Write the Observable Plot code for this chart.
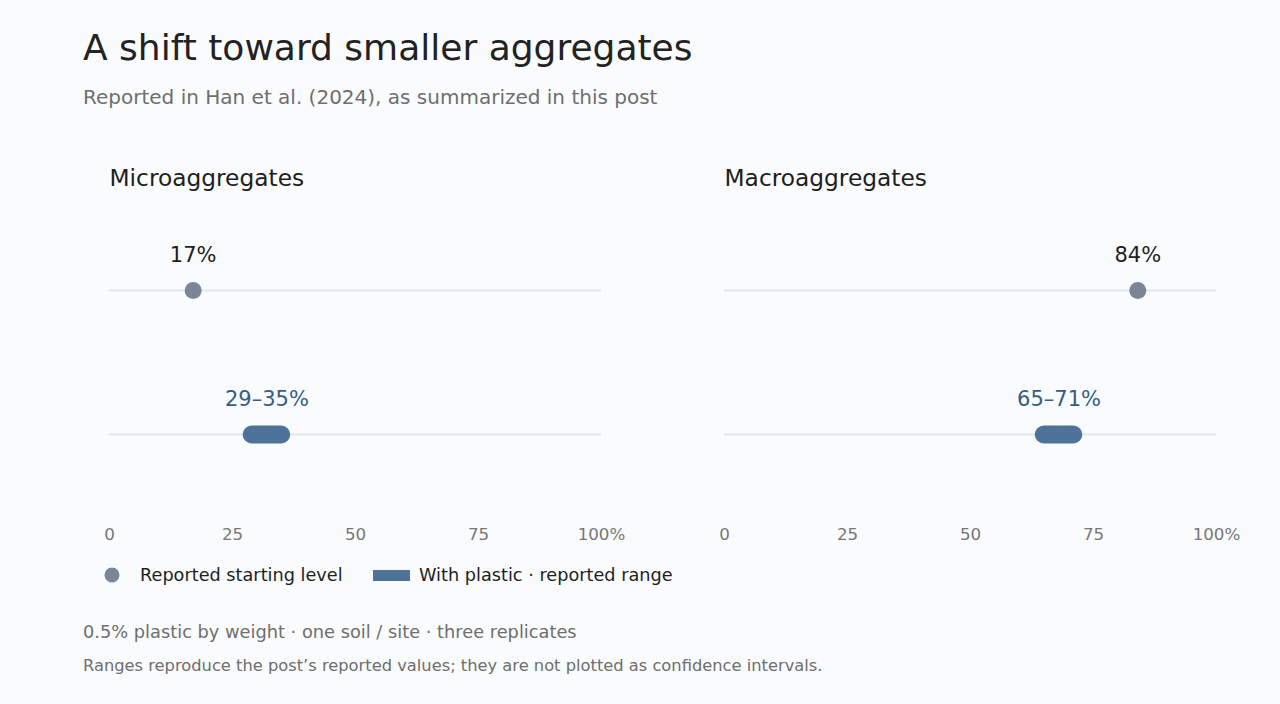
<!DOCTYPE html>
<html>
<head>
<meta charset="utf-8">
<script src="https://cdn.jsdelivr.net/npm/d3@7"></script>
<script src="https://cdn.jsdelivr.net/npm/@observablehq/plot@0.6"></script>
<style>
  html, body { margin: 0; padding: 0; background: #f9fbfd; }
  body { width: 1280px; height: 704px; position: relative; font-family: "DejaVu Sans", sans-serif; overflow: hidden; }
  #title { position: absolute; left: 83px; top: 26px; font-size: 36px; color: #222; white-space: nowrap; line-height: 1.2; }
  #subtitle { position: absolute; left: 83px; top: 85px; font-size: 20px; color: #6e6e6e; white-space: nowrap; line-height: 1.2; }
  #chart { position: absolute; left: 0; top: 140px; }
  #legend { position: absolute; left: 0; top: 562px; width: 1280px; height: 26px; }
  #note1 { position: absolute; left: 83px; top: 621px; font-size: 17.8px; color: #6e6e6e; white-space: nowrap; line-height: 1.2; }
  #note2 { position: absolute; left: 83px; top: 656px; font-size: 16.3px; color: #6e6e6e; white-space: nowrap; line-height: 1.2; }
</style>
</head>
<body>
<div id="title">A shift toward smaller aggregates</div>
<div id="subtitle">Reported in Han et al. (2024), as summarized in this post</div>
<div id="chart"></div>
<svg id="legend" width="1280" height="26"></svg>
<div id="note1">0.5% plastic by weight · one soil / site · three replicates</div>
<div id="note2">Ranges reproduce the post’s reported values; they are not plotted as confidence intervals.</div>
<script>
const groups = ["Microaggregates", "Macroaggregates"];
const startValues = [17, 84];
const rangeLow = [29, 65];
const rangeHigh = [35, 71];
const rows = ["start", "plastic"];
const xTicks = [0, 25, 50, 75, 100];
const legendLabels = ["Reported starting level", "With plastic · reported range"];

const dotColor = "#7d8594";
const barColor = "#4e7299";
const rangeTextColor = "#355d86";
const trackColor = "#e4e6ea";

const table = groups.map((g, i) => ({
  group: g, start: startValues[i], lo: rangeLow[i], hi: rangeHigh[i]
}));
const tracks = groups.flatMap(g => rows.map(r => ({group: g, row: r})));

const chart = Plot.plot({
  width: 1280,
  height: 410,
  marginLeft: 109,
  marginRight: 64,
  marginTop: 0,
  marginBottom: 30,
  style: {background: "transparent", fontFamily: "DejaVu Sans, sans-serif"},
  fx: {domain: groups, paddingInner: 0.2, paddingOuter: 0, axis: null},
  x: {domain: [0, 100], ticks: xTicks, label: null},
  y: {type: "point", domain: rows, range: [150, 294], padding: 0, axis: null},
  marks: [
    Plot.axisX({ticks: xTicks, tickSize: 0, tickPadding: 8, fontSize: 16.7, color: "#777",
      tickFormat: d => d === 100 ? "100%" : String(d), label: null}),
    Plot.text(groups, {fx: d => d, text: d => d, frameAnchor: "top-left", textAnchor: "start",
      lineAnchor: "middle", dy: 38, fontSize: 23.3, fill: "#1e1e1e"}),
    Plot.ruleY(tracks, {fx: "group", y: "row", x1: 0, x2: 100, stroke: trackColor, strokeWidth: 2}),
    Plot.ruleY(table, {fx: "group", y: () => "plastic", x1: "lo", x2: "hi", stroke: barColor,
      strokeWidth: 18, strokeLinecap: "round"}),
    Plot.dot(table, {fx: "group", x: "start", y: () => "start", r: 8.5, fill: dotColor}),
    Plot.text(table, {fx: "group", x: "start", y: () => "start", text: d => `${d.start}%`,
      dy: -35, fontSize: 21, fill: "#1e1e1e"}),
    Plot.text(table, {fx: "group", x: d => (d.lo + d.hi) / 2, y: () => "plastic",
      text: d => `${d.lo}–${d.hi}%`, dy: -35, fontSize: 21, fill: rangeTextColor})
  ]
});
document.getElementById("chart").appendChild(chart);

const lg = d3.select("#legend");
lg.append("circle").attr("cx", 112).attr("cy", 13).attr("r", 7.5).attr("fill", dotColor);
lg.append("text").attr("x", 140).attr("y", 13).attr("dy", "0.35em").attr("font-size", 17.7)
  .attr("fill", "#1e1e1e").attr("font-family", "DejaVu Sans, sans-serif").text(legendLabels[0]);
lg.append("rect").attr("x", 373).attr("y", 8).attr("width", 37).attr("height", 11).attr("fill", barColor);
lg.append("text").attr("x", 419).attr("y", 13).attr("dy", "0.35em").attr("font-size", 17.7)
  .attr("fill", "#1e1e1e").attr("font-family", "DejaVu Sans, sans-serif").text(legendLabels[1]);
</script>
</body>
</html>
